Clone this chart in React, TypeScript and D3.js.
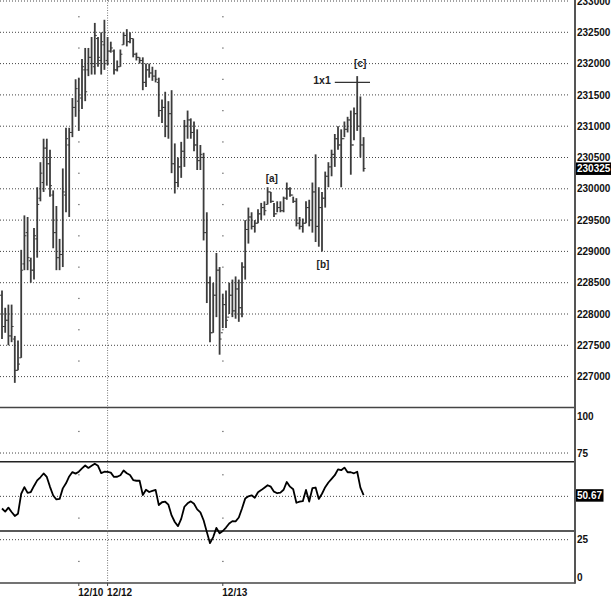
import React from 'react';
import * as d3 from 'd3';

// ---- Data ----
const highs = [
  228375, 228100, 228150, 228150, 227650, 227575, 229025, 229575, 229550, 228900,
  229375, 230025, 230425, 230800, 230800, 230625, 229975, 229725, 229200, 230325,
  230975, 230975, 231450, 231750, 231775, 232075, 232250, 232250, 232425, 232650,
  232425, 232500, 232700, 232425, 232350, 232225, 232050, 232225, 232500, 232550,
  232500, 232400, 232175, 232100, 232100, 232000, 232000, 231950, 231900, 231775,
  231425, 231550, 231400, 231575, 230725, 230500, 230750, 231100, 231250, 231125,
  231075, 230950, 230700, 230575, 229625, 228600, 228500, 228975, 228750, 228325,
  228375, 228500, 228550, 228600, 228550, 228825, 229500, 229700, 229625, 229500,
  229675, 229775, 229800, 230025, 229950, 229775, 229800, 229800, 229875, 230100,
  230025, 229875, 229850, 229550, 229525, 229800, 229825, 230100, 230550, 230025,
  229950, 230275, 230425, 230625, 230875, 231000, 230950, 231075, 231150, 231250,
  231300, 231800, 231475, 230825,
];
const lows = [
  227600, 227700, 227500, 227550, 226900, 227100, 227300, 228700, 228700, 228500,
  228550, 228900, 229800, 229950, 230050, 229875, 229050, 228700, 228700, 228750,
  229625, 229550, 230825, 231150, 230925, 231275, 231400, 231800, 231825, 231825,
  231950, 231825, 231900, 231975, 232175, 231825, 231875, 231950, 232300, 232275,
  232325, 232100, 232050, 232000, 231575, 231625, 231775, 231725, 231700, 231150,
  231050, 230825, 230800, 230250, 229925, 230025, 230175, 230350, 230800, 230800,
  230600, 230300, 230300, 229175, 228175, 227550, 227700, 227950, 227350, 227775,
  227775, 228000, 227950, 227925, 227875, 227950, 228550, 229125, 229350, 229300,
  229450, 229500, 229575, 229750, 229775, 229550, 229625, 229625, 229625, 229825,
  229875, 229775, 229400, 229350, 229300, 229450, 229400, 229300, 229150, 229075,
  229000, 229700, 230025, 230200, 230350, 230625, 230025, 230825, 230900, 230225,
  230775, 230925, 230500, 230275,
];
const opens = [
  228300, 227800, 227900, 227650, 227600, 227100, 227300, 228800, 229300, 228850,
  228700, 229200, 229850, 230100, 230650, 230400, 229900, 229300, 228900, 228950,
  229900, 230700, 230900, 231300, 231400, 231450, 231900, 231900, 232100, 231950,
  232400, 232050, 232300, 232050, 232200, 232200, 231900, 231950, 232300, 232450,
  232350, 232400, 232150, 232100, 232050, 231700, 231900, 231850, 231800, 231700,
  231250, 231300, 231000, 231200, 230400, 230100, 230350, 230600, 231000, 231100,
  230900, 230700, 230450, 230500, 229300, 228500, 227700, 228300, 228700, 227700,
  228150, 227950, 228300, 228050, 228400, 228100, 228750, 229350, 229550, 229400,
  229450, 229600, 229700, 229750, 229950, 229800, 229600, 229700, 229650, 229850,
  230000, 229900, 229800, 229450, 229400, 229450, 229700, 229500, 229950, 229400,
  229700, 229850, 230200, 230350, 230550, 230800, 230700, 230800, 230950, 231100,
  230700, 231200, 231000, 230700,
];
const closes = [
  227800, 227900, 227650, 227800, 227100, 227200, 228700, 229250, 228900, 228700,
  229250, 229750, 230250, 230650, 230400, 230050, 229300, 228900, 228950, 229950,
  230800, 230900, 231300, 231600, 231500, 231950, 231550, 232100, 232000, 232450,
  232100, 232350, 232000, 232200, 232250, 231900, 231950, 232150, 232450, 232350,
  232400, 232150, 232100, 232050, 231700, 231900, 231850, 231800, 231750, 231250,
  231300, 231000, 231200, 230400, 230100, 230350, 230600, 231000, 231100, 230900,
  230700, 230450, 230550, 229300, 228500, 227700, 228300, 228700, 227600, 228150,
  227900, 228300, 228050, 228400, 228100, 228750, 229350, 229550, 229400, 229450,
  229600, 229700, 229650, 229950, 229800, 229600, 229700, 229650, 229850, 230000,
  229900, 229800, 229450, 229400, 229450, 229700, 229500, 229950, 229400, 229700,
  229850, 230200, 230350, 230550, 230800, 230700, 230800, 230950, 231100, 230700,
  231200, 231000, 230700, 230325,
];
const rsiValues = [
  43.0, 41.2, 43.5, 41.0, 38.7, 40.0, 51.5, 55.3, 52.0, 52.5,
  56.0, 59.2, 61.0, 63.2, 61.2, 55.5, 50.5, 48.2, 48.5, 54.6,
  57.5, 61.5, 64.0, 63.1, 64.2, 66.1, 67.8, 66.4, 67.6, 68.8,
  67.6, 63.4, 64.2, 64.1, 63.7, 61.2, 61.3, 62.2, 64.9, 63.3,
  62.3, 59.4, 59.0, 59.0, 50.8, 53.8, 52.5, 53.2, 53.7, 45.0,
  46.6, 46.9, 45.2, 39.0, 35.2, 32.8, 37.0, 44.0, 46.0, 47.1,
  45.7, 42.5, 40.8, 36.2, 29.5, 23.0, 26.5, 31.8, 28.7, 30.0,
  32.0, 34.3, 35.7, 35.6, 37.8, 43.0, 48.7, 50.0, 50.6, 49.2,
  52.4, 53.6, 55.0, 56.4, 55.6, 52.7, 51.8, 52.1, 53.8, 58.3,
  55.6, 54.1, 46.3, 46.9, 47.2, 53.7, 47.0, 54.7, 55.1, 48.5,
  51.5, 55.3, 58.0, 60.1, 62.2, 65.6, 65.1, 66.6, 63.9, 63.9,
  63.3, 64.2, 55.0, 50.67,
];

const priceTicks = [227000, 227500, 228000, 228500, 229000, 229500, 230000, 230500, 231000, 231500, 232000, 232500, 233000];
const rsiGridValues = [25, 50, 75];
const rsiBandValues = [30, 70];
const rsiLabelValues = [0, 25, 75, 100];
const rsiMidDots = [12.5, 37.5, 62.5, 87.5];
const dateTickIndex = [24, 33, 69];
const dateTickLabels = ['12/10', '12/12', '12/13'];
const fullGridDateIndex = 33;
const lastPrice = 230325;
const lastRsi = 50.67;
const waveLabels = [
  { text: '[a]', index: 84, at: 'high' },
  { text: '[b]', index: 100, at: 'low' },
  { text: '[c]', index: 111, at: 'high' },
];
const oneByOneText = '1x1';
const oneByOnePrice = 231700;
const oneByOneFrom = 104;
const oneByOneTo = 115;

const W = 611;
const H = 600;
const AXIS_X = 575;
const PRICE_TOP = 0;
const PRICE_BOTTOM = 407.5;
const RSI_BOTTOM = 583;
const FONT = '"Liberation Sans", Arial, Helvetica, sans-serif';

export default function App() {
  const n = highs.length;
  const x = d3.scaleLinear().domain([0, n - 1]).range([2, 363.6]);
  const y = d3.scaleLinear().domain([227000, 233000]).range([376.6, 1]);
  const r = d3.scaleLinear().domain([0, 100]).range([RSI_BOTTOM, 409.7]);

  const rsiLine = d3
    .line<number>()
    .x((_, i) => x(i))
    .y((v) => r(v));

  const priceMidDots: number[] = [];
  for (let k = 0; k < priceTicks.length - 1; k++) {
    priceMidDots.push((priceTicks[k] + priceTicks[k + 1]) / 2);
  }
  const sparseCols = dateTickIndex.filter((d) => d !== fullGridDateIndex);

  return (
    <svg
      width={W}
      height={H}
      style={{ position: 'fixed', left: 0, top: 0, background: '#fff' }}
      fontFamily={FONT}
    >
      <rect x={0} y={0} width={W} height={H} fill="#fff" />
      {/* price horizontal grid */}
      {priceTicks.map((t) => (
        <line key={'pg' + t} x1={0} x2={568} y1={y(t)} y2={y(t)} stroke="#444" strokeWidth={1} strokeDasharray="1,2" />
      ))}
      {/* rsi horizontal grid */}
      {rsiGridValues.map((t) => (
        <line key={'rg' + t} x1={0} x2={568} y1={r(t)} y2={r(t)} stroke="#444" strokeWidth={1} strokeDasharray="1,2" />
      ))}
      {rsiBandValues.map((t) => (
        <line key={'rb' + t} x1={0} x2={AXIS_X} y1={r(t)} y2={r(t)} stroke="#222" strokeWidth={1.5} />
      ))}
      {/* full vertical dotted line */}
      <line
        x1={x(fullGridDateIndex)}
        x2={x(fullGridDateIndex)}
        y1={0}
        y2={RSI_BOTTOM}
        stroke="#777"
        strokeWidth={1}
        strokeDasharray="1,1.5"
      />
      {/* sparse dots for other date columns */}
      {sparseCols.map((d) => (
        <g key={'sc' + d}>
          {priceMidDots.map((p) => (
            <rect key={'pd' + p} x={x(d) - 0.5} y={y(p) - 0.5} width={1.2} height={1.2} fill="#555" />
          ))}
          {rsiMidDots.map((p) => (
            <rect key={'rd' + p} x={x(d) - 0.5} y={r(p) - 0.5} width={1.2} height={1.2} fill="#555" />
          ))}
        </g>
      ))}

      {/* OHLC bars */}
      {highs.map((h, i) => {
        const cx = x(i);
        return (
          <g key={'b' + i} stroke="#3c3c3c">
            <line x1={cx} x2={cx} y1={y(h)} y2={y(lows[i])} strokeWidth={1.8} />
            <line x1={cx - 2} x2={cx} y1={y(opens[i])} y2={y(opens[i])} strokeWidth={1} />
            <line x1={cx} x2={cx + 2} y1={y(closes[i])} y2={y(closes[i])} strokeWidth={1} />
          </g>
        );
      })}

      {/* 1x1 annotation */}
      <line
        x1={x(oneByOneFrom)}
        x2={x(oneByOneTo)}
        y1={y(oneByOnePrice)}
        y2={y(oneByOnePrice)}
        stroke="#333"
        strokeWidth={1.2}
      />
      <text
        x={x(oneByOneFrom) - 4}
        y={y(oneByOnePrice) + 1.5}
        textAnchor="end"
        fontSize={10.5}
        fontWeight="bold"
        fill="#222"
      >
        {oneByOneText}
      </text>
      {waveLabels.map((w) => {
        const isHigh = w.at === 'high';
        const ty = isHigh ? y(highs[w.index]) - 9.5 : y(lows[w.index]) + 17;
        return (
          <text
            key={w.text}
            x={x(w.index) + (w.text === '[c]' ? 3 : 1)}
            y={ty}
            textAnchor="middle"
            fontSize={10}
            fontWeight="bold"
            fill="#222"
          >
            {w.text}
          </text>
        );
      })}

      {/* RSI line */}
      <path d={rsiLine(rsiValues) || ''} fill="none" stroke="#000" strokeWidth={1.8} strokeLinejoin="round" />

      {/* panel borders */}
      <line x1={0} x2={AXIS_X} y1={PRICE_BOTTOM} y2={PRICE_BOTTOM} stroke="#444" strokeWidth={1.5} />
      <line x1={0} x2={AXIS_X} y1={RSI_BOTTOM} y2={RSI_BOTTOM} stroke="#444" strokeWidth={1.5} />
      <line x1={AXIS_X} x2={AXIS_X} y1={PRICE_TOP} y2={RSI_BOTTOM + 0.75} stroke="#555" strokeWidth={2} />

      {/* date ticks */}
      {dateTickIndex.map((d, k) => (
        <g key={'dt' + d}>
          <line x1={x(d)} x2={x(d)} y1={RSI_BOTTOM} y2={RSI_BOTTOM + 3} stroke="#444" strokeWidth={1} />
          <text x={x(d) - 0.5} y={595.5} fontSize={10} fontWeight="bold" fill="#111">
            {dateTickLabels[k]}
          </text>
        </g>
      ))}

      {/* price axis labels */}
      {priceTicks.map((t) => (
        <text key={'pl' + t} x={577} y={y(t)} dy="0.36em" fontSize={10} fontWeight="bold" fill="#111">
          {t}
        </text>
      ))}
      <rect x={576} y={y(lastPrice) - 6} width={35} height={12.5} fill="#000" />
      <text x={577} y={y(lastPrice)} dy="0.36em" fontSize={10} fontWeight="bold" fill="#fff">
        {lastPrice}
      </text>

      {/* rsi axis labels */}
      {rsiLabelValues.map((t) => {
        const yy = Math.min(Math.max(r(t), 416), 577);
        return (
          <text key={'rl' + t} x={577} y={yy} dy="0.36em" fontSize={10} fontWeight="bold" fill="#111">
            {t}
          </text>
        );
      })}
      <rect x={576} y={r(lastRsi) - 6} width={27.5} height={12.5} fill="#000" />
      <text x={577} y={r(lastRsi)} dy="0.36em" fontSize={10} fontWeight="bold" fill="#fff">
        {lastRsi.toFixed(2)}
      </text>
    </svg>
  );
}
